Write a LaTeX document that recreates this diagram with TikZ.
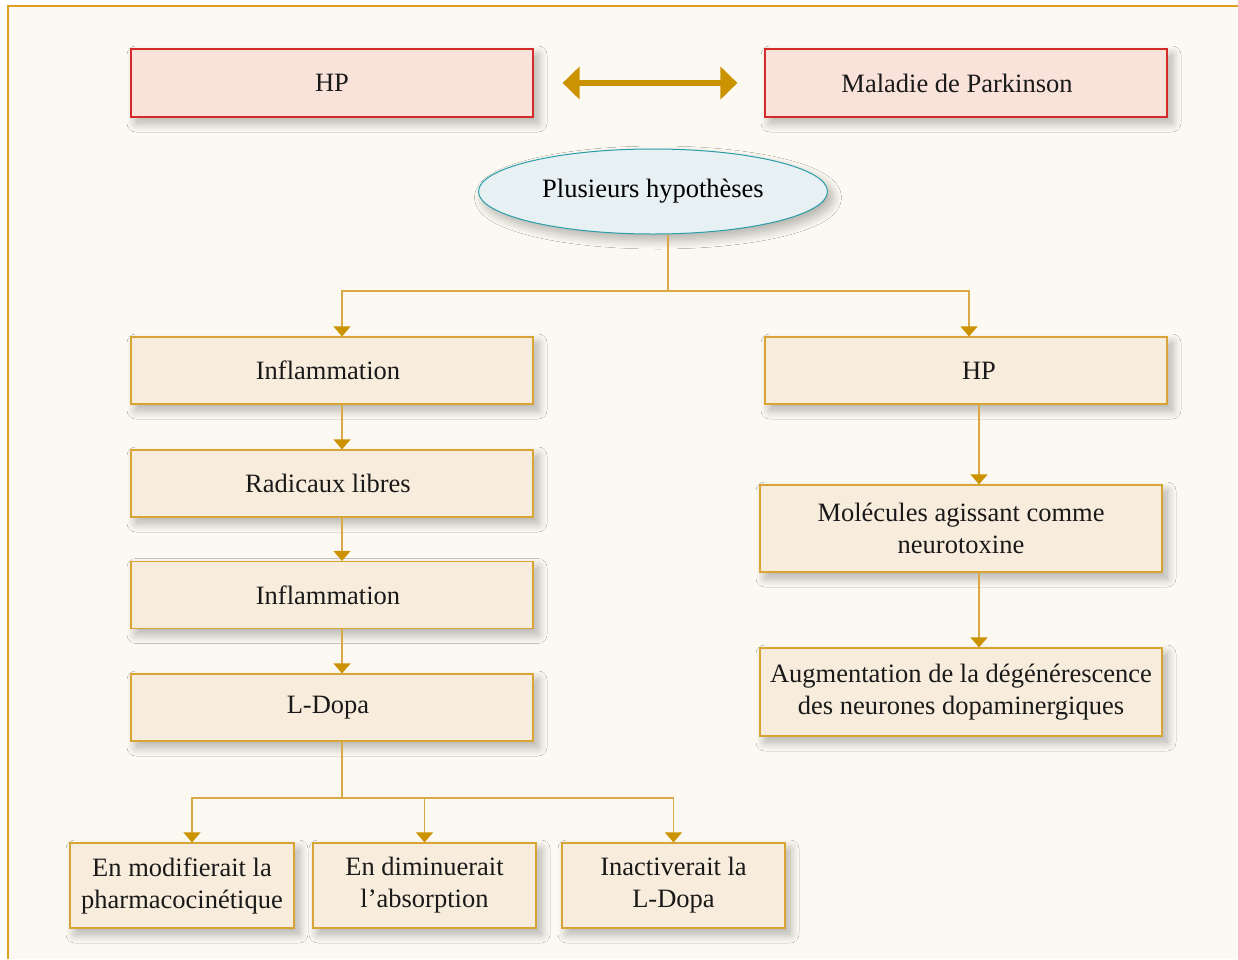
\documentclass[tikz,border=0pt]{standalone}
\usepackage{fontspec}
\setmainfont{Liberation Serif}
\usetikzlibrary{arrows.meta,shapes.geometric,shadows.blur}
\definecolor{bgcream}{HTML}{FCF9F2}
\definecolor{framec}{HTML}{E0A024}
\definecolor{redline}{HTML}{D42A2A}
\definecolor{pinkfill}{HTML}{F8E2D9}
\definecolor{boxfill}{HTML}{F8EDDC}
\definecolor{boxline}{HTML}{D8A436}
\definecolor{gold}{HTML}{CC9300}
\definecolor{connc}{HTML}{DBA847}
\definecolor{ellfill}{HTML}{E7F0F2}
\definecolor{ellline}{HTML}{2A9DA8}
\tikzset{
  shad/.style={blur shadow={shadow xshift=5pt,shadow yshift=-6pt,shadow blur radius=9pt,shadow blur steps=14,shadow opacity=30}},
  basebox/.style={rectangle,shad,inner sep=0pt,align=center,font=\fontsize{26.5}{32}\selectfont,text=black!90},
  redbox/.style={basebox,fill=pinkfill,draw=redline,line width=1.2pt,minimum width=402pt,minimum height=68pt},
  stepbox/.style={basebox,fill=boxfill,draw=boxline,line width=1.2pt},
  wide/.style={minimum width=402pt},
  small/.style={minimum width=223pt,minimum height=85pt},
  ellnode/.style={ellipse,shad,fill=ellfill,draw=ellline,line width=1pt,minimum width=349pt,minimum height=85pt,inner sep=0pt,font=\fontsize{26.5}{32}\selectfont},
  conn/.style={draw=connc,line width=1.3pt},
  arr/.style={conn,-{Triangle[width=17pt,length=10pt,fill=gold,color=gold]}},
  bigarr/.style={draw=gold,line width=6pt,{Triangle[width=32pt,length=17pt]}-{Triangle[width=32pt,length=17pt]}}
}
\begin{document}
\begin{tikzpicture}[x=1pt,y=-1pt]
\useasboundingbox (0,0) rectangle (1238,959);
\fill[white] (0,0) rectangle (1238,959);
\fill[bgcream] (8,6) rectangle (1238,959);
\draw[framec,line width=1.3pt] (8,959) -- (8,6) -- (1238,6);

\node[redbox] (hp1) at (332,83) {HP};
\node[redbox] (mal) at (966,83) {\hspace*{-18pt}Maladie de Parkinson};
\draw[bigarr,shorten <=29pt,shorten >=27pt] (hp1.east) -- (mal.west);

\node[ellnode] (ell) at (653,191.5) {Plusieurs hypothèses};

\node[stepbox,wide,minimum height=67pt] (inf1) at (332,370.5) {\hspace*{-8pt}Inflammation};
\node[stepbox,wide,minimum height=67pt] (rad) at (332,483.5) {\hspace*{-8pt}Radicaux libres};
\node[stepbox,wide,minimum height=67pt] (inf2) at (332,595) {\hspace*{-8pt}Inflammation};
\node[stepbox,wide,minimum height=67pt] (ldopa) at (332,707.5) {\hspace*{-8pt}L-Dopa};

\node[stepbox,wide,minimum height=67pt] (hp2) at (966,370.5) {\hspace*{26pt}HP};
\node[stepbox,wide,minimum height=87pt] (mol) at (961,528.5) {Molécules agissant comme\\neurotoxine};
\node[stepbox,wide,minimum height=88pt] (aug) at (961,692) {Augmentation de la dégénérescence\\des neurones dopaminergiques};

\node[stepbox,small,minimum width=224pt] (b1) at (182,885.5) {En modifierait la\\pharmacocinétique};
\node[stepbox,small] (b2) at (424.5,885.5) {En diminuerait\\l’absorption};
\node[stepbox,small] (b3) at (673.5,885.5) {Inactiverait la\\L-Dopa};

% connectors
\coordinate (j1) at (668,291);
\draw[conn] (ell.south -| j1) -- (j1);
\draw[arr] (j1) -| ([xshift=10pt]inf1.north);
\draw[arr] (j1) -| ([xshift=3pt]hp2.north);
\draw[arr] ([xshift=10pt]inf1.south) -- ([xshift=10pt]rad.north);
\draw[arr] ([xshift=10pt]rad.south) -- ([xshift=10pt]inf2.north);
\draw[arr] ([xshift=10pt]inf2.south) -- ([xshift=10pt]ldopa.north);
\draw[arr] ([xshift=13pt]hp2.south) -- ([xshift=18pt]mol.north);
\draw[arr] ([xshift=18pt]mol.south) -- ([xshift=18pt]aug.north);

\coordinate (j2) at (342,798);
\draw[conn] ([xshift=10pt]ldopa.south) -- (j2);
\draw[arr] (j2) -| ([xshift=10pt]b1.north);
\draw[arr] (j2) -| (b2.north);
\draw[arr] (j2) -| (b3.north);
\end{tikzpicture}
\end{document}
